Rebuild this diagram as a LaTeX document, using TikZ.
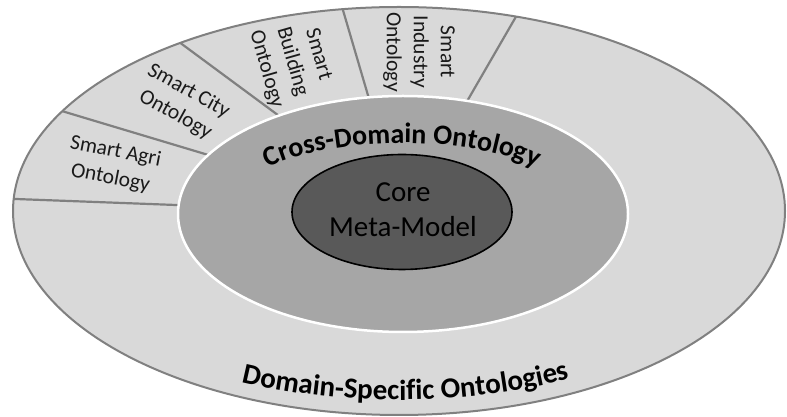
\documentclass[tikz,border=0pt]{standalone}
\usepackage{fontspec}
\setmainfont{Carlito}
\usetikzlibrary{decorations.text}
\definecolor{ringfill}{HTML}{D9D9D9}
\definecolor{ringline}{HTML}{808080}
\definecolor{midfill}{HTML}{A6A6A6}
\definecolor{corefill}{HTML}{595959}
\definecolor{labeltext}{HTML}{1A1A1A}
\begin{document}
\begin{tikzpicture}[x=1pt,y=1pt,
  sep/.style={draw=ringline, line width=2.2pt},
  seglabel/.style={font=\fontsize{21.5}{27}\selectfont, text=labeltext, align=center, inner sep=0pt},
  corelabel/.style={font=\fontsize{29}{35}\selectfont, text=black, align=center, inner sep=0pt},
  arctext/.style 2 args={decorate, decoration={text along path, text align=center, text={|\bfseries\fontsize{#1}{#1}\selectfont|#2}}}
]
\useasboundingbox (0,0) rectangle (787,417);
\fill[white] (0,0) rectangle (787,417);
% outer ring
\fill[ringfill] (399,206) ellipse[x radius=386pt, y radius=204pt];
\coordinate (l1a) at (5,218.4);   \coordinate (l1b) at (200,211.1);
\coordinate (l2a) at (55.4,307.9); \coordinate (l2b) at (225,257);
\coordinate (l3a) at (175,378);   \coordinate (l3b) at (290,293);
\coordinate (l4a) at (340,417);   \coordinate (l4b) at (372,308);
\coordinate (l5a) at (521,409);   \coordinate (l5b) at (462,307);
\begin{scope}
  \clip (399,206) ellipse[x radius=386pt, y radius=204pt];
  \draw[sep] (l1a) -- (l1b);
  \draw[sep] (l2a) -- (l2b);
  \draw[sep] (l3a) -- (l3b);
  \draw[sep] (l4a) -- (l4b);
  \draw[sep] (l5a) -- (l5b);
\end{scope}
\draw[ringline, line width=2pt] (399,206) ellipse[x radius=386pt, y radius=204pt];
% cross-domain ellipse
\draw[white, fill=midfill, line width=2.5pt] (403,203) ellipse[x radius=225pt, y radius=118pt];
% core
\draw[black, fill=corefill, line width=1.6pt] (402,205) ellipse[x radius=110pt, y radius=57.5pt];
\node[corelabel] (core) at (403,207) {Core\\Meta-Model};
% segment labels
\node[seglabel, rotate=-11] (agri) at (113,252) {Smart Agri\\Ontology};
\node[seglabel, rotate=-29] (city) at (182,314) {Smart City\\Ontology};
\node[seglabel, rotate=-74] (building) at (292,355) {Smart\\Building\\Ontology};
\node[seglabel, rotate=-90] (industry) at (419,365) {Smart\\Industry\\Ontology};
% curved titles
\path[arctext={28}{Cross-Domain Ontology}] (402,205) ++(150:176pt and 69pt) arc[start angle=150, end angle=30, x radius=176pt, y radius=69pt];
\path[arctext={29}{Domain-Specific Ontologies}] (399,206) ++(216.5:370pt and 189pt) arc[start angle=216.5, end angle=326.5, x radius=370pt, y radius=189pt];
\end{tikzpicture}
\end{document}
